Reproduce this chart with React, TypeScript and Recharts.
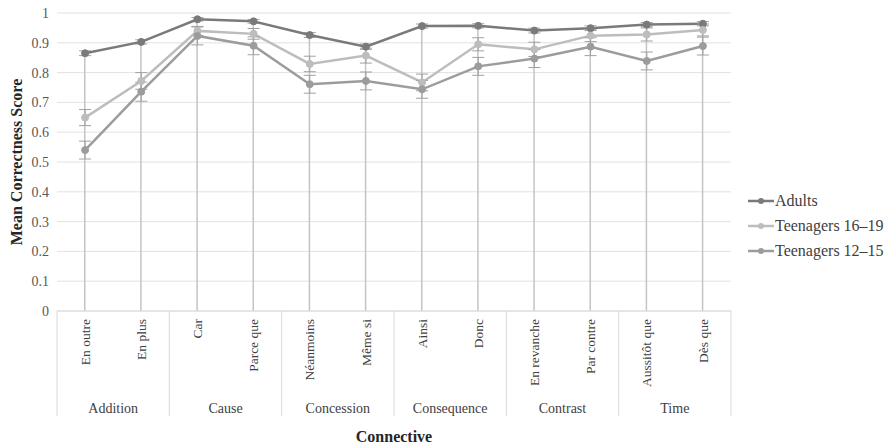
import {
  ComposedChart,
  Line,
  Bar,
  XAxis,
  YAxis,
  CartesianGrid,
  ErrorBar,
  Legend,
} from 'recharts'

const connectives = [
  'En outre', 'En plus', 'Car', 'Parce que', 'Néanmoins', 'Même si',
  'Ainsi', 'Donc', 'En revanche', 'Par contre', 'Aussitôt que', 'Dès que',
]
const groups = ['Addition', 'Cause', 'Concession', 'Consequence', 'Contrast', 'Time']

const adults = [0.865, 0.903, 0.979, 0.972, 0.926, 0.887, 0.956, 0.957, 0.941, 0.949, 0.961, 0.964]
const teens1619 = [0.649, 0.772, 0.94, 0.93, 0.829, 0.857, 0.767, 0.895, 0.878, 0.924, 0.928, 0.943]
const teens1215 = [0.54, 0.736, 0.923, 0.89, 0.761, 0.772, 0.744, 0.821, 0.847, 0.887, 0.839, 0.889]

const adultsErr = [0.008, 0.007, 0.006, 0.006, 0.008, 0.009, 0.007, 0.007, 0.008, 0.008, 0.007, 0.007]
const teens1619Err = [0.027, 0.028, 0.015, 0.018, 0.026, 0.025, 0.028, 0.022, 0.024, 0.02, 0.022, 0.02]
const teens1215Err = [0.03, 0.032, 0.03, 0.03, 0.03, 0.03, 0.03, 0.03, 0.03, 0.03, 0.03, 0.03]

const yTicks = [0, 0.1, 0.2, 0.3, 0.4, 0.5, 0.6, 0.7, 0.8, 0.9, 1]

const SERIES = [
  { key: 'adults', name: 'Adults', color: '#7a7a7a' },
  { key: 'teens1619', name: 'Teenagers 16\u201319', color: '#bdbdbd' },
  { key: 'teens1215', name: 'Teenagers 12\u201315', color: '#9c9c9c' },
]

const FONT = 'Liberation Serif'

const data = connectives.map((c, i) => ({
  connective: c,
  adults: adults[i],
  teens1619: teens1619[i],
  teens1215: teens1215[i],
  adultsErr: adultsErr[i],
  teens1619Err: teens1619Err[i],
  teens1215Err: teens1215Err[i],
  drop: Math.max(adults[i], teens1619[i], teens1215[i]),
}))

function ConnectiveTick(props: any) {
  const { x, y, payload, index } = props
  const half = payload.offset ?? 28
  const isFirst = index % 2 === 0
  const isLast = index === connectives.length - 1
  return (
    <g>
      <text
        x={x}
        y={y + 8}
        transform={`rotate(-90, ${x}, ${y + 8})`}
        textAnchor="end"
        dy="0.35em"
        fontSize={13.5}
        fontFamily={FONT}
        fill="#404040"
      >
        {payload.value}
      </text>
      {isFirst && (
        <>
          <line x1={x - half} y1={y} x2={x - half} y2={y + 105} stroke="#d9d9d9" />
          <text
            x={x + half}
            y={y + 97}
            textAnchor="middle"
            dy="0.35em"
            fontSize={14}
            fontFamily={FONT}
            fill="#404040"
          >
            {groups[index / 2]}
          </text>
        </>
      )}
      {isLast && <line x1={x + half} y1={y} x2={x + half} y2={y + 105} stroke="#d9d9d9" />}
    </g>
  )
}

function LegendBox() {
  return (
    <div style={{ fontFamily: FONT, fontSize: 16, color: '#404040', whiteSpace: 'nowrap' }}>
      {SERIES.map((s) => (
        <div key={s.key} style={{ display: 'flex', alignItems: 'center', height: 25 }}>
          <svg width={26} height={10} style={{ marginRight: 1, flexShrink: 0 }}>
            <line x1={0} y1={5} x2={26} y2={5} stroke={s.color} strokeWidth={2.5} />
            <circle cx={13} cy={5} r={3} fill={s.color} />
          </svg>
          <span>{s.name}</span>
        </div>
      ))}
    </div>
  )
}

export default function App() {
  return (
    <div style={{ position: 'absolute', left: 0, top: 0 }}>
      <ComposedChart
        width={890}
        height={447}
        data={data}
        margin={{ top: 13, right: 159, left: 0, bottom: 0 }}
      >
        <CartesianGrid horizontal vertical={false} stroke="#e2e2e2" />
        <XAxis
          dataKey="connective"
          interval={0}
          height={136}
          tickLine={false}
          tickSize={0}
          tickMargin={0}
          axisLine={{ stroke: '#d9d9d9' }}
          tick={(p: any) => <ConnectiveTick {...p} />}
          label={({ viewBox }: any) => (
            <text
              x={viewBox.x + viewBox.width / 2}
              y={viewBox.y + 125}
              textAnchor="middle"
              dy="0.35em"
              fontSize={16}
              fontWeight="bold"
              fontFamily={FONT}
              fill="#262626"
            >
              Connective
            </text>
          )}
        />
        <YAxis
          domain={[0, 1]}
          ticks={yTicks}
          width={57}
          axisLine={false}
          tickLine={false}
          tickSize={0}
          tickMargin={8}
          tickFormatter={(v: number) => String(Math.round(v * 10) / 10)}
          tick={{ fontSize: 14, fontFamily: FONT, fill: '#595959' }}
          label={({ viewBox }: any) => {
            const cx = 16
            const cy = viewBox.y + viewBox.height / 2
            return (
              <text
                x={cx}
                y={cy}
                transform={`rotate(-90, ${cx}, ${cy})`}
                textAnchor="middle"
                dy="0.35em"
                fontSize={16}
                fontWeight="bold"
                fontFamily={FONT}
                fill="#262626"
              >
                Mean Correctness Score
              </text>
            )
          }}
        />
        <Bar dataKey="drop" barSize={1.5} fill="#c4c4c4" isAnimationActive={false} legendType="none" />
        {SERIES.map((s) => (
          <Line
            key={s.key}
            dataKey={s.key}
            name={s.name}
            stroke={s.color}
            strokeWidth={2.5}
            dot={{ r: 3.5, fill: s.color, stroke: s.color, strokeWidth: 1 }}
            activeDot={false}
            isAnimationActive={false}
          >
            <ErrorBar
              dataKey={`${s.key}Err`}
              direction="y"
              width={6}
              strokeWidth={1}
              stroke="#a0a0a0"
              isAnimationActive={false}
            />
          </Line>
        ))}
        <Legend
          layout="vertical"
          align="center"
          verticalAlign="middle"
          wrapperStyle={{ left: 748, top: 188, width: 140 }}
          content={() => <LegendBox />}
        />
      </ComposedChart>
    </div>
  )
}
